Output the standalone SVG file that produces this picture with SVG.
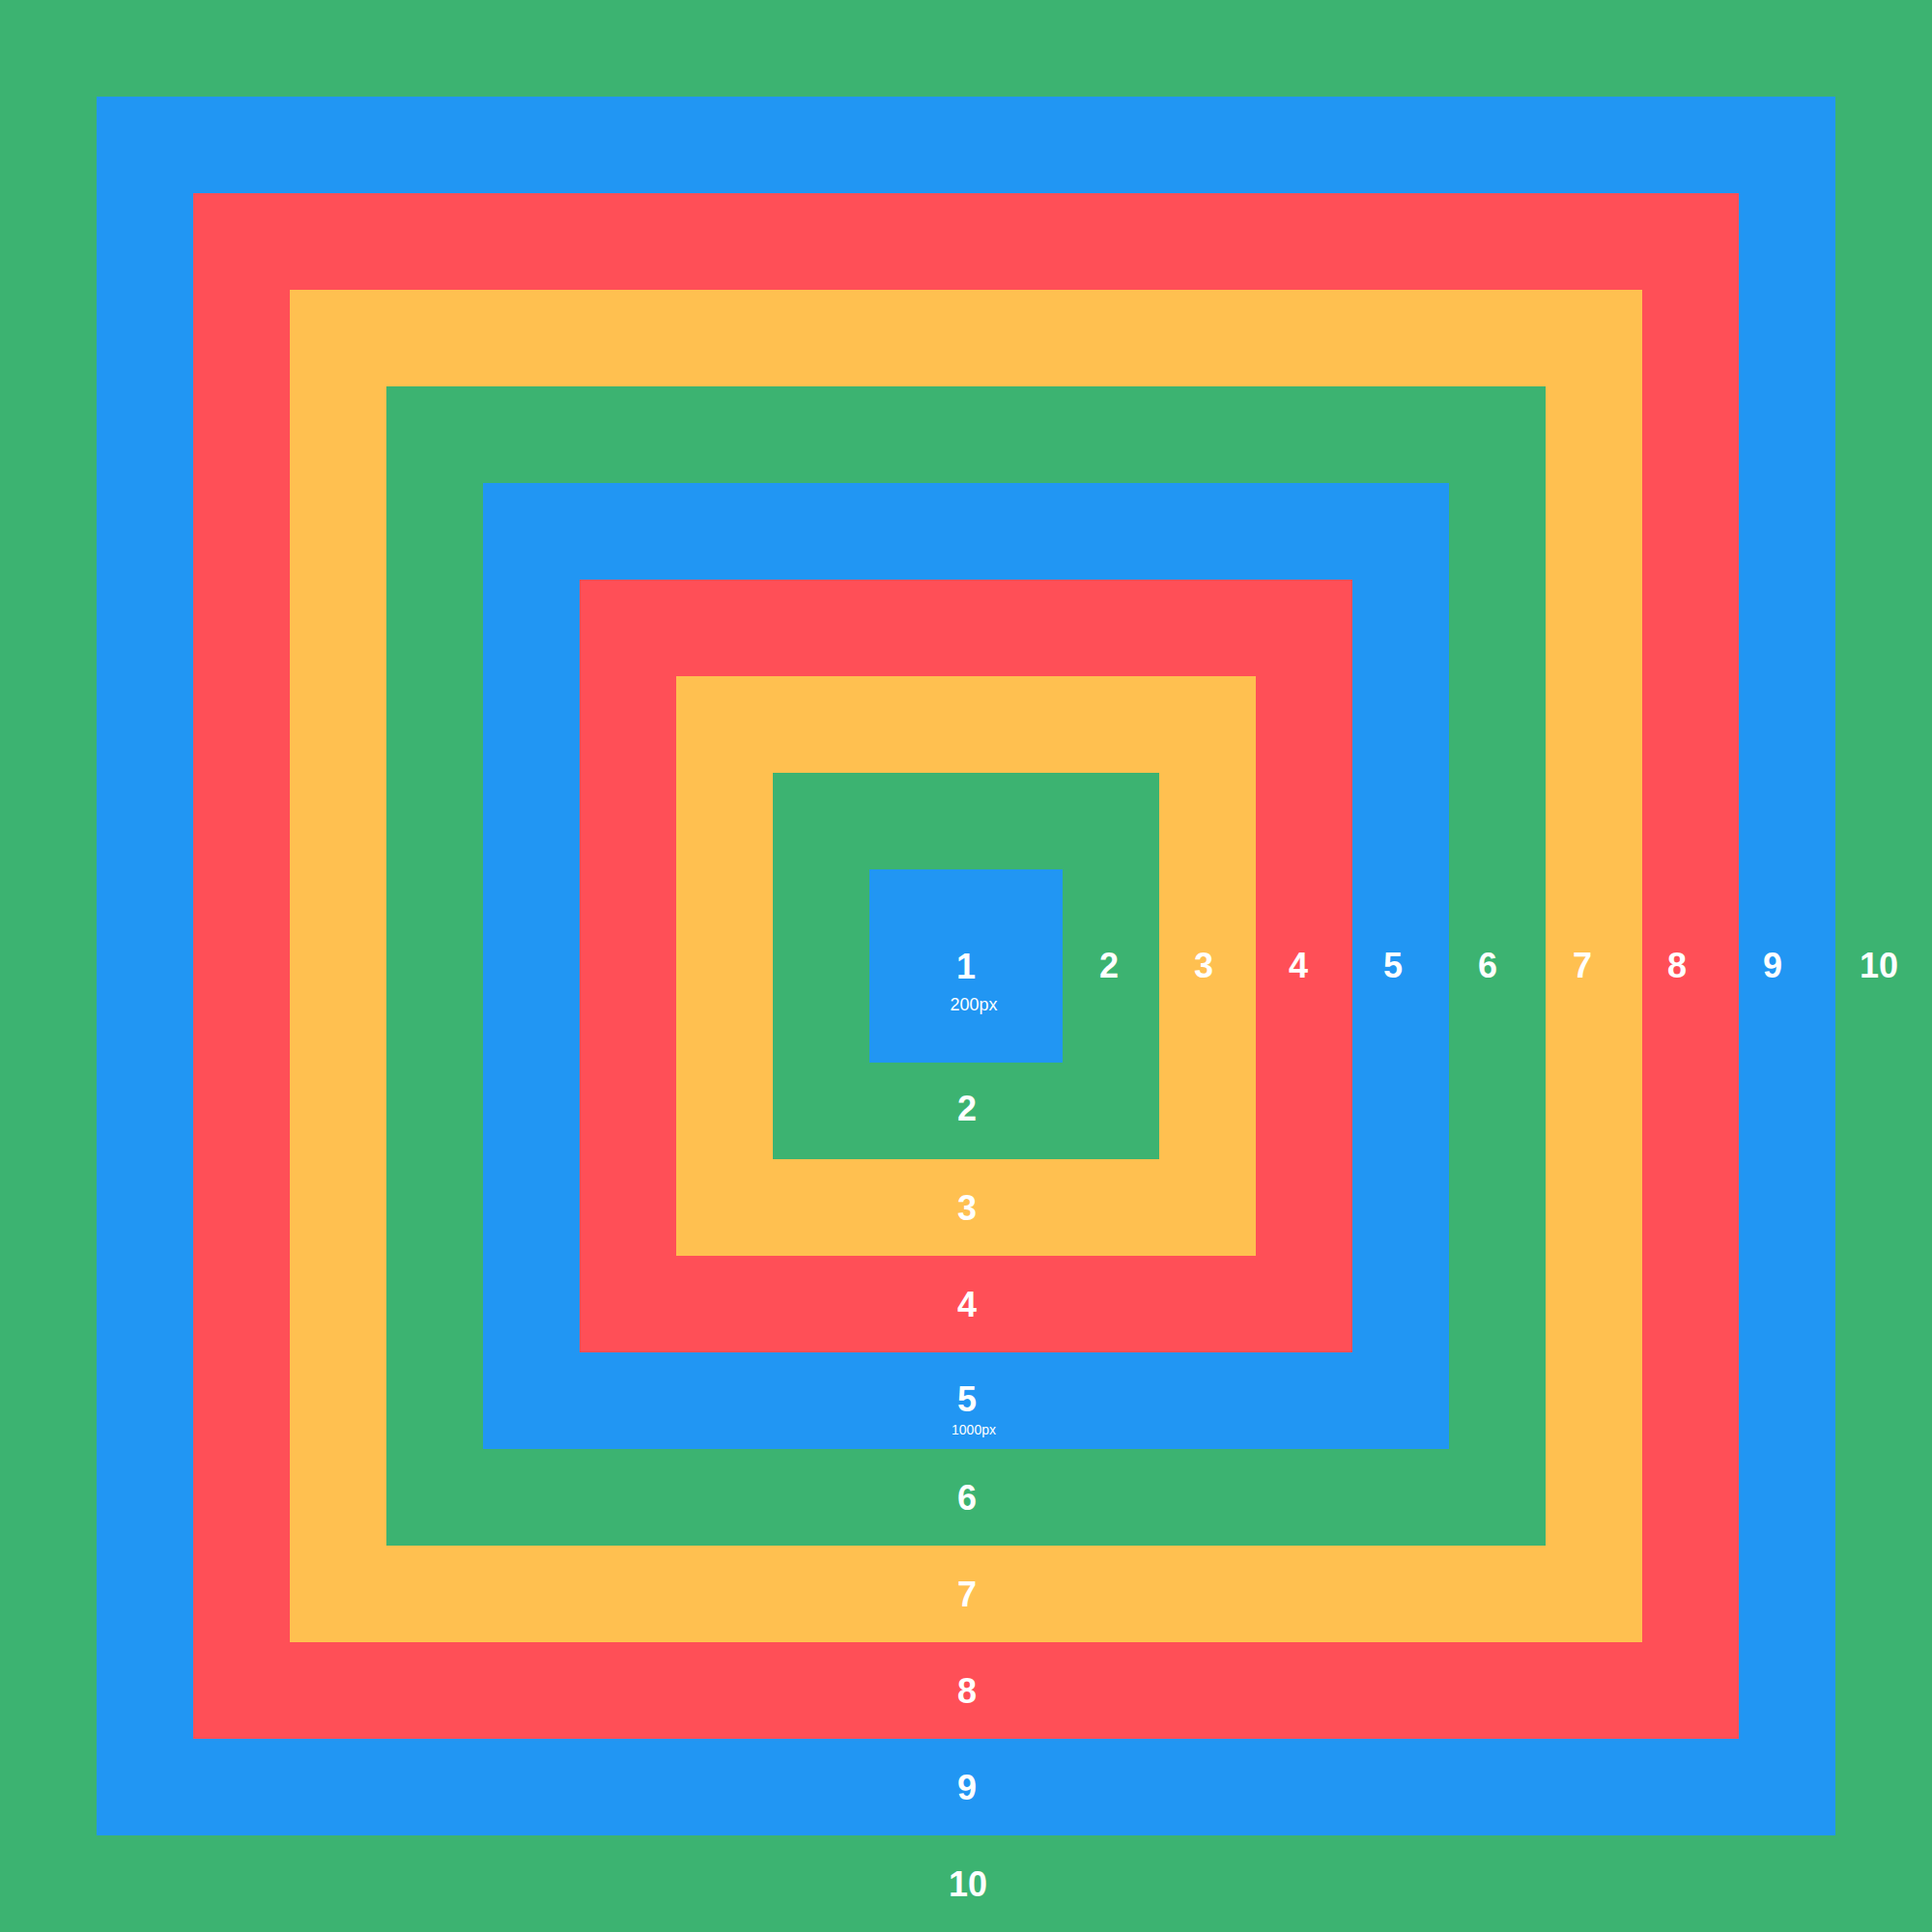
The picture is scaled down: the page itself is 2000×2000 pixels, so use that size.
<svg xmlns="http://www.w3.org/2000/svg" width="2000" height="2000" viewBox="0 0 2000 2000">
<style>
.g{fill:#3CB371}.b{fill:#2196F3}.r{fill:#FF4F57}.y{fill:#FFC050}
text{fill:#fff;font-family:"Liberation Sans",Arial,sans-serif;text-anchor:middle}
.n{font-size:36px;font-weight:bold}
.s{font-size:18px}
.t{font-size:14px}
</style>
<g id="sq10"><rect class="g" x="0" y="0" width="2000" height="2000"/></g>
<g id="sq9"><rect class="b" x="100" y="100" width="1800" height="1800"/></g>
<g id="sq8"><rect class="r" x="200" y="200" width="1600" height="1600"/></g>
<g id="sq7"><rect class="y" x="300" y="300" width="1400" height="1400"/></g>
<g id="sq6"><rect class="g" x="400" y="400" width="1200" height="1200"/></g>
<g id="sq5"><rect class="b" x="500" y="500" width="1000" height="1000"/></g>
<g id="sq4"><rect class="r" x="600" y="600" width="800" height="800"/></g>
<g id="sq3"><rect class="y" x="700" y="700" width="600" height="600"/></g>
<g id="sq2"><rect class="g" x="800" y="800" width="400" height="400"/></g>
<g id="sq1"><rect class="b" x="900" y="900" width="200" height="200"/></g>
<g id="labels">
<text class="n" x="1000" y="1013">1</text>
<text class="s" x="1008" y="1046">200px</text>
<text class="n" x="1148" y="1012">2</text>
<text class="n" x="1246" y="1012">3</text>
<text class="n" x="1344" y="1012">4</text>
<text class="n" x="1442" y="1012">5</text>
<text class="n" x="1540" y="1012">6</text>
<text class="n" x="1638" y="1012">7</text>
<text class="n" x="1736" y="1012">8</text>
<text class="n" x="1835" y="1012">9</text>
<text class="n" x="1945" y="1012">10</text>
<text class="n" x="1001" y="1160">2</text>
<text class="n" x="1001" y="1263">3</text>
<text class="n" x="1001" y="1363">4</text>
<text class="n" x="1001" y="1461">5</text>
<text class="t" x="1008" y="1485">1000px</text>
<text class="n" x="1001" y="1563">6</text>
<text class="n" x="1001" y="1663">7</text>
<text class="n" x="1001" y="1763">8</text>
<text class="n" x="1001" y="1863">9</text>
<text class="n" x="1002" y="1963">10</text>
</g>
</svg>
